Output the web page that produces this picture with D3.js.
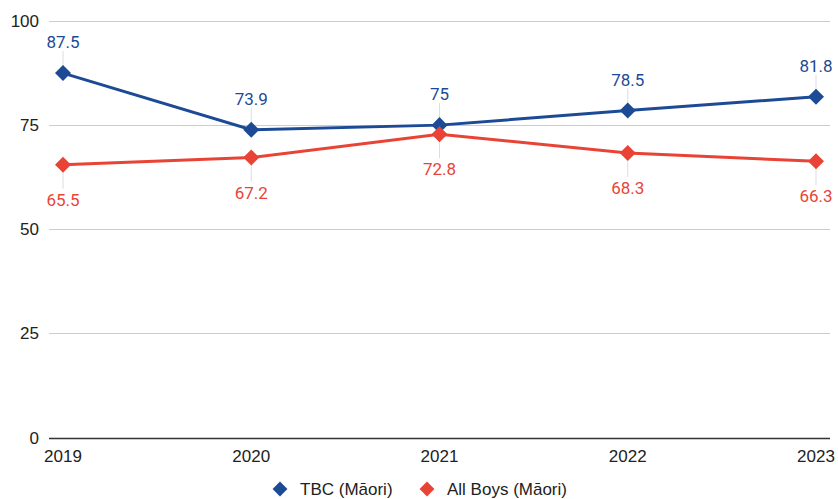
<!DOCTYPE html>
<html>
<head>
<meta charset="utf-8">
<script src="https://cdn.jsdelivr.net/npm/d3@7"></script>
<style>
  html, body { margin: 0; padding: 0; background: #fff; }
  svg { display: block; }
</style>
</head>
<body>
<svg id="chart" width="838" height="499"></svg>
<script>
// Data
const years = ["2019", "2020", "2021", "2022", "2023"];
const tbcMaori = [87.5, 73.9, 75, 78.5, 81.8];
const allBoysMaori = [65.5, 67.2, 72.8, 68.3, 66.3];
const yTicks = [0, 25, 50, 75, 100];
const seriesNames = ["TBC (Māori)", "All Boys (Māori)"];

const blue = "#1c4a95";
const red = "#e94336";

const svg = d3.select("#chart");

const x = d3.scalePoint().domain(years).range([63, 816]);
const y = d3.scaleLinear().domain([0, 100]).range([437.5, 21]);

const gridLeft = 49, gridRight = 830;
const axisFont = "Liberation Sans, Arial, sans-serif";

// Gridlines
svg.append("g").selectAll("line")
  .data(yTicks)
  .join("line")
  .attr("x1", gridLeft).attr("x2", gridRight)
  .attr("y1", d => Math.round(y(d)) + 0.5).attr("y2", d => Math.round(y(d)) + 0.5)
  .attr("stroke", d => d === 0 ? "#333" : "#ccc")
  .attr("stroke-width", d => d === 0 ? 1.5 : 1);

// Y axis labels
svg.append("g").selectAll("text")
  .data(yTicks)
  .join("text")
  .attr("x", 39)
  .attr("y", d => y(d) + 6)
  .attr("text-anchor", "end")
  .attr("font-family", axisFont)
  .attr("font-size", 17)
  .attr("fill", "#222")
  .text(d => d);

// X axis labels
svg.append("g").selectAll("text")
  .data(years)
  .join("text")
  .attr("x", d => x(d))
  .attr("y", 462)
  .attr("text-anchor", "middle")
  .attr("font-family", axisFont)
  .attr("font-size", 17)
  .attr("fill", "#222")
  .text(d => d);

const series = [
  { name: seriesNames[0], values: tbcMaori, color: blue, above: true },
  { name: seriesNames[1], values: allBoysMaori, color: red, above: false }
];

const line = d3.line().x((d, i) => x(years[i])).y(d => y(d));
const marker = d3.symbol().type(d3.symbolSquare).size(128);

// Leader lines from each point to its value label
series.forEach(s => {
  svg.append("g").selectAll("line")
    .data(s.values)
    .join("line")
    .attr("x1", (d, i) => x(years[i]))
    .attr("x2", (d, i) => x(years[i]))
    .attr("y1", d => y(d))
    .attr("y2", d => s.above ? y(d) - 22 : y(d) + 24)
    .attr("stroke", "#ddd")
    .attr("stroke-width", 1);
});

series.forEach(s => {
  const g = svg.append("g");
  g.append("path")
    .datum(s.values)
    .attr("d", line)
    .attr("fill", "none")
    .attr("stroke", s.color)
    .attr("stroke-width", 3);

  g.selectAll("path.mark")
    .data(s.values)
    .join("path")
    .attr("class", "mark")
    .attr("d", marker)
    .attr("transform", (d, i) => `translate(${x(years[i])},${y(d)}) rotate(45)`)
    .attr("fill", s.color);

  g.selectAll("text")
    .data(s.values)
    .join("text")
    .attr("x", (d, i) => x(years[i]))
    .attr("y", d => s.above ? y(d) - 25 : y(d) + 41)
    .attr("text-anchor", "middle")
    .attr("font-family", "Roboto, sans-serif")
    .attr("font-size", 17)
    .attr("fill", s.color)
    .text(d => d);
});

// Legend
const legend = svg.append("g");
const legendItems = [
  { name: seriesNames[0], color: blue, x: 280 },
  { name: seriesNames[1], color: red, x: 427 }
];
legendItems.forEach(it => {
  legend.append("path")
    .attr("d", d3.symbol().type(d3.symbolSquare).size(110))
    .attr("transform", `translate(${it.x},489) rotate(45)`)
    .attr("fill", it.color);
  legend.append("text")
    .attr("x", it.x + 20)
    .attr("y", 495)
    .attr("font-family", axisFont)
    .attr("font-size", 17)
    .attr("fill", "#222")
    .text(it.name);
});
</script>
</body>
</html>
